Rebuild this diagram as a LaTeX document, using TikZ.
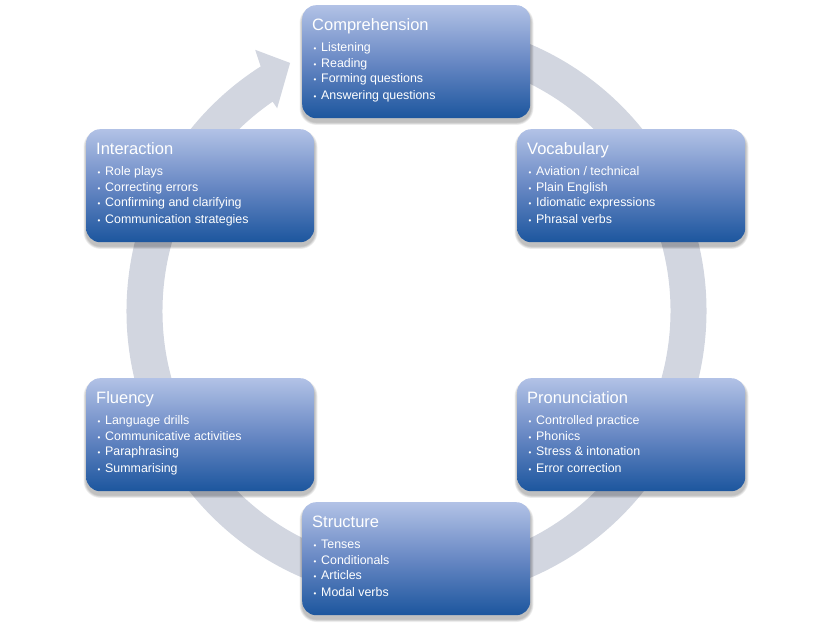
\documentclass[tikz,border=0pt]{standalone}
\usepackage{fontspec}
\setmainfont{Liberation Sans}
\definecolor{ringgray}{RGB}{210,214,224}
\definecolor{boxtop}{RGB}{178,194,230}
\definecolor{boxmid}{RGB}{104,136,196}
\definecolor{boxbot}{RGB}{28,86,158}
\tikzset{
  topic/.style={draw=none, rounded corners=14pt, minimum width=228pt, minimum height=113pt,
    inner sep=0pt, anchor=north west, top color=boxtop, bottom color=boxbot, middle color=boxmid},
  shd/.style={fill=black, fill opacity=0.055, draw=none},
  ttl/.style={anchor=base west, text=white, font=\fontsize{16.5}{18}\selectfont, inner sep=0pt},
  itm/.style={anchor=base west, text=white, font=\fontsize{12.4}{14}\selectfont, inner sep=0pt},
  bul/.style={anchor=base west, text=white, font=\fontsize{8}{9}\selectfont, inner sep=0pt},
  ring/.style={fill=ringgray}
}
\newcommand\topicbox[8]{%
  \foreach \s in {5,4,3,2,1}{%
    \fill[shd, rounded corners=14pt+0.6*\s pt] (#2+0.5-0.6*\s,-#3-4+0.6*\s) rectangle (#2+228.5+0.6*\s,-#3-117-0.6*\s);
  }
  \node[topic] (#1) at (#2,-#3) {};
  \node[ttl] (#1-t) at (#2+10,-#3-26) {#4};
  \node[bul] (#1-b1) at (#2+11.5,-#3-46.3) {•};
  \node[itm] (#1-i1) at (#2+19,-#3-46.5) {#5};
  \node[bul] (#1-b2) at (#2+11.5,-#3-62.8) {•};
  \node[itm] (#1-i2) at (#2+19,-#3-63) {#6};
  \node[bul] (#1-b3) at (#2+11.5,-#3-77.3) {•};
  \node[itm] (#1-i3) at (#2+19,-#3-77.5) {#7};
  \node[bul] (#1-b4) at (#2+11.5,-#3-94.3) {•};
  \node[itm] (#1-i4) at (#2+19,-#3-94.5) {#8};
}
\begin{document}
\begin{tikzpicture}[x=1pt,y=1pt]
\useasboundingbox (0,0) rectangle (831,-628);
\coordinate (c) at (416.5,-311);
\begin{scope}[shift={(c)}]
  \path[ring] (85:290) arc[start angle=85, end angle=-237.5, radius=290]
    -- (121.7:307) -- (117:278.4) -- (124.5:246) -- (124.5:254)
    arc[start angle=-235.5, end angle=85, radius=254] -- cycle;
\end{scope}
\topicbox{comp}{302}{5}{Comprehension}{Listening}{Reading}{Forming questions}{Answering questions}
\topicbox{voc}{517}{129}{Vocabulary}{Aviation / technical}{Plain English}{Idiomatic expressions}{Phrasal verbs}
\topicbox{pron}{517}{378}{Pronunciation}{Controlled practice}{Phonics}{Stress \& intonation}{Error correction}
\topicbox{str}{302}{502}{Structure}{Tenses}{Conditionals}{Articles}{Modal verbs}
\topicbox{flu}{86}{378}{Fluency}{Language drills}{Communicative activities}{Paraphrasing}{Summarising}
\topicbox{int}{86}{129}{Interaction}{Role plays}{Correcting errors}{Confirming and clarifying}{Communication strategies}
\end{tikzpicture}
\end{document}
